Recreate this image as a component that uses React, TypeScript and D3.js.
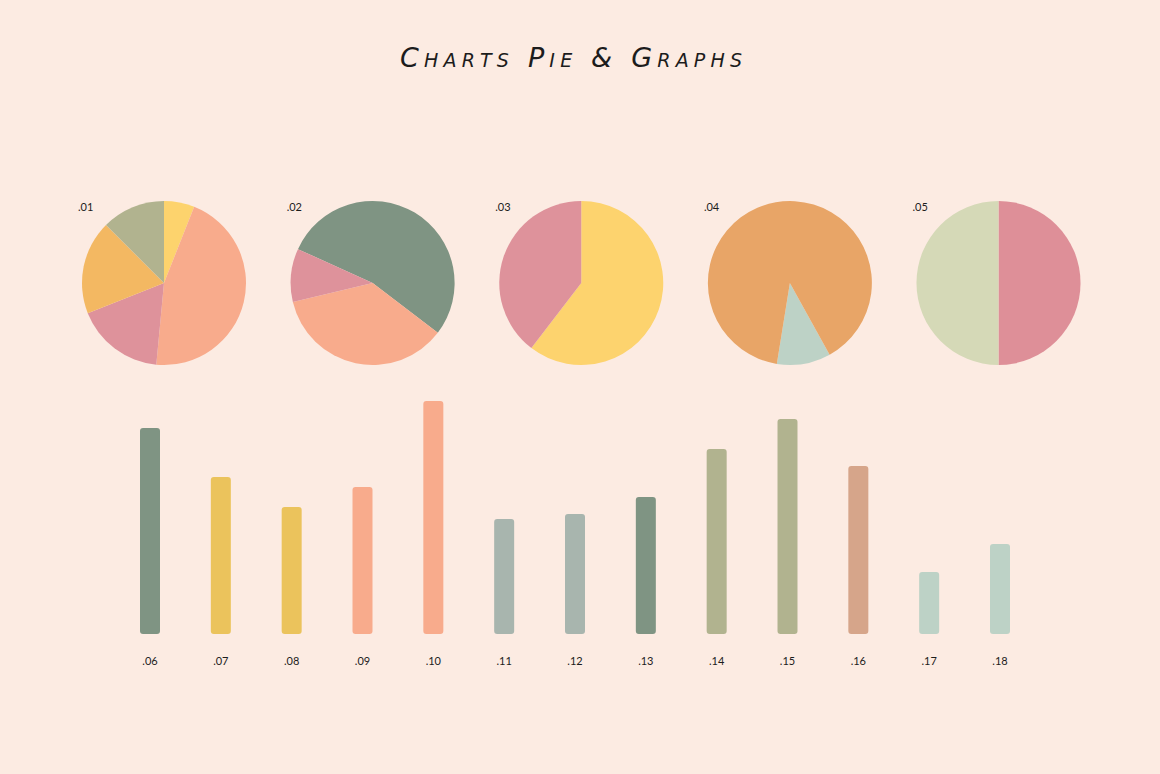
import { FC, useEffect } from 'react';
import * as d3 from 'd3';

const pieLabels = ['.01', '.02', '.03', '.04', '.05'];
const pieValues = [
  [6, 45.5, 17.5, 18.5, 12.5],
  [53.6, 35.9, 10.5],
  [60.4, 39.6],
  [10.6, 89.4],
  [50, 50],
];
const pieColors = [
  ['#fdd36d', '#f8ab8c', '#de929b', '#f3b862', '#b1b38f'],
  ['#7f9483', '#f8ab8c', '#de929b'],
  ['#fdd36e', '#de929b'],
  ['#bdd2c6', '#e8a567'],
  ['#de8f98', '#d5d9b7'],
];
// where the first slice of each pie begins, degrees clockwise from 12 o'clock
const pieStartDeg = [0, -65.6, 0, 151, 0];

const barLabels = ['.06', '.07', '.08', '.09', '.10', '.11', '.12', '.13', '.14', '.15', '.16', '.17', '.18'];
const barValues = [206, 157, 127, 147, 233, 115, 120, 137, 185, 215, 168, 62, 90];
const barColors = [
  '#7f9483', '#ebc35c', '#ebc35c', '#f8ab8c', '#f8ab8c', '#a8b5ae', '#a8b5ae',
  '#7f9483', '#b1b38f', '#b1b38f', '#d6a58a', '#bdd2c6', '#bdd2c6',
];

const W = 1160;
const H = 774;

const App: FC = () => {
  useEffect(() => {
    document.body.style.margin = '0';
  }, []);

  // Pie layout
  const pieX = d3.scalePoint<string>().domain(pieLabels).range([164, 998.5]);
  const pieY = 283;
  const radius = 82;
  const arc = d3.arc<d3.PieArcDatum<number>>().innerRadius(0).outerRadius(radius);

  // Bar layout
  const x = d3.scalePoint<string>().domain(barLabels).range([150, 1000]);
  const y = d3.scaleLinear().domain([0, 240]).range([634, 394]);
  const barW = 20;

  return (
    <svg width={W} height={H} style={{ display: 'block' }}>
      <rect width={W} height={H} fill="#fcebe2" />

      <text
        x={571}
        y={67}
        textAnchor="middle"
        fontFamily="'DejaVu Sans', sans-serif"
        fontStyle="italic"
        fontSize={27}
        fill="#1c1c1c"
        style={{ fontVariant: 'small-caps' }}
        textLength={342}
        lengthAdjust="spacing"
      >
        Charts Pie &amp; Graphs
      </text>

      {pieLabels.map((label, i) => {
        const start = (pieStartDeg[i] * Math.PI) / 180;
        const slices = d3
          .pie<number>()
          .sort(null)
          .startAngle(start)
          .endAngle(start + 2 * Math.PI)(pieValues[i]);
        const cx = pieX(label) as number;
        return (
          <g key={label}>
            <g transform={`translate(${cx},${pieY})`}>
              {slices.map((s, j) => (
                <path key={j} d={arc(s) as string} fill={pieColors[i][j]} />
              ))}
            </g>
            <text
              x={cx - 86}
              y={pieY - 72}
              fontFamily="Lato, sans-serif"
              fontSize={11}
              fill="#1c1c1c"
            >
              {label}
            </text>
          </g>
        );
      })}

      {barLabels.map((label, i) => {
        const cx = x(label) as number;
        return (
          <g key={label}>
            <rect
              x={cx - barW / 2}
              y={y(barValues[i])}
              width={barW}
              height={y(0) - y(barValues[i])}
              rx={3}
              fill={barColors[i]}
            />
            <text
              x={cx}
              y={y(0) + 31}
              textAnchor="middle"
              fontFamily="Lato, sans-serif"
              fontSize={11}
              fill="#1c1c1c"
            >
              {label}
            </text>
          </g>
        );
      })}
    </svg>
  );
};

export default App;
